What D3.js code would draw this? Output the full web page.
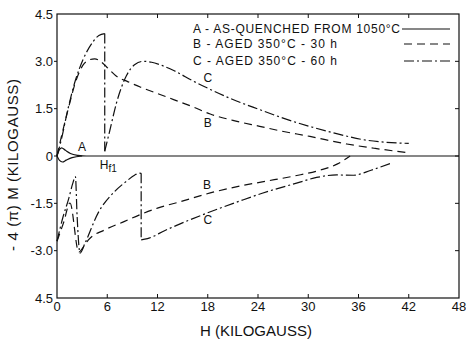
<!DOCTYPE html>
<html>
<head>
<meta charset="utf-8">
<script src="https://cdn.jsdelivr.net/npm/d3@7"></script>
<style>
  body { margin: 0; background: #fff; }
  text { font-family: "Liberation Sans", Arial, sans-serif; fill: #111; }
</style>
</head>
<body>
<div id="chart"></div>
<script>
// values: [H kG, -4piM kG]
// each curve is a list of pieces; the pieces are joined by straight jumps
let curveA = [
  [[0, 0], [0.25, 0.18], [0.55, 0.26], [1, 0.18], [1.6, 0.08], [2.5, 0.02], [3.5, 0], [48, 0]],
];
let curveAlow = [
  [[0, 0], [0.3, -0.14], [0.65, -0.19], [1.1, -0.13], [1.8, -0.05], [3, 0]],
];
let curveB = [
  [[0, 0], [0.6, 0.7], [1.3, 1.45], [2.35, 2.45], [3.1, 2.88], [3.8, 3.04], [4.5, 3.08], [5.2, 3.0],
   [5.9, 2.83], [7.1, 2.53], [8.5, 2.35], [10, 2.18], [12.3, 1.95], [14, 1.78], [16.3, 1.55],
   [18.3, 1.33], [21, 1.13], [24.2, 0.94], [26.6, 0.8], [30.2, 0.62], [34.6, 0.38], [38, 0.24], [42, 0.1]],
];
let curveBlow = [
  [[0, -2.7], [0.8, -2.1], [1.55, -1.49], [2.6, -3.05], [3.1, -2.9], [3.75, -2.66], [5.7, -2.34],
   [8, -2.08], [9.9, -1.86], [12, -1.65], [14.7, -1.45], [18.3, -1.17], [21.9, -0.95], [24.5, -0.82],
   [28.4, -0.63], [31.4, -0.45], [33.5, -0.25], [35, 0]],
];
let curveC = [
  [[0, 0], [0.5, 0.5], [1.3, 1.48], [2.2, 2.4], [3.1, 3.05], [4.3, 3.62], [5.0, 3.82], [5.7, 3.88]],
  [[5.7, 0.15], [6.3, 0.8], [7.1, 1.68], [8.3, 2.55], [9.3, 2.9], [10.3, 3.0], [11.3, 2.97], [12.3, 2.89],
   [14, 2.7], [16.3, 2.37], [18.3, 2.11], [21, 1.79], [24.2, 1.47], [27, 1.2], [30.4, 0.92],
   [33.5, 0.7], [36.5, 0.52], [39, 0.44], [42, 0.4]],
];
let curveClow = [
  [[0, -2.7], [0.7, -1.95], [1.4, -1.35], [1.9, -0.85], [2.2, -0.65], [2.4, -1.9], [2.75, -3.08],
   [3.35, -2.76], [4.9, -1.81], [6.9, -1.12], [8.2, -0.82], [9.3, -0.6], [9.8, -0.54], [10.05, -0.55]],
  [[10.05, -2.66], [10.8, -2.62], [12.9, -2.36], [14.7, -2.15], [17.9, -1.81], [21.9, -1.42], [24.5, -1.18],
   [28.6, -0.86], [31, -0.68], [33.4, -0.6], [35.4, -0.61], [37.5, -0.45], [40, -0.22]],
];

let xTicks = [0, 6, 12, 18, 24, 30, 36, 42, 48];
let yTicks = [4.5, 3.0, 1.5, 0, -1.5, -3.0, -4.5];
let yTickLabels = ["4.5", "3.0", "1.5", "0", "-1.5", "-3.0", "4.5"];

let legendNames = ["A - AS-QUENCHED FROM 1050°C", "B - AGED 350°C - 30 h", "C - AGED 350°C - 60 h"];

let width = 466, height = 340;
let margin = {top: 14, right: 7, bottom: 42, left: 57};

let svg = d3.select("#chart")
  .append("svg")
    .attr("width", width)
    .attr("height", height);

let x = d3.scaleLinear().domain([0, 48]).range([margin.left, width - margin.right]);
let y = d3.scaleLinear().domain([-4.5, 4.5]).range([height - margin.bottom, margin.top]);

// frame
svg.append("rect")
  .attr("x", x(0)).attr("y", y(4.5))
  .attr("width", x(48) - x(0)).attr("height", y(-4.5) - y(4.5))
  .attr("fill", "none").attr("stroke", "#111").attr("stroke-width", 1.2);

// ticks: bottom/top/right point inward, left points out
let tk = svg.append("g").attr("stroke", "#111").attr("stroke-width", 1);
xTicks.slice(1, -1).forEach(function(t) {
  tk.append("line").attr("x1", x(t)).attr("x2", x(t)).attr("y1", y(-4.5)).attr("y2", y(-4.5) - 4);
  tk.append("line").attr("x1", x(t)).attr("x2", x(t)).attr("y1", y(4.5)).attr("y2", y(4.5) + 4);
});
yTicks.slice(1, -1).forEach(function(t) {
  tk.append("line").attr("x1", x(0) - 3).attr("x2", x(0)).attr("y1", y(t)).attr("y2", y(t));
  tk.append("line").attr("x1", x(48)).attr("x2", x(48) - 4).attr("y1", y(t)).attr("y2", y(t));
});

svg.append("g").selectAll("text").data(xTicks).join("text")
  .attr("x", function(d) { return x(d); })
  .attr("y", y(-4.5) + 13)
  .attr("text-anchor", "middle")
  .attr("font-size", 13)
  .text(function(d) { return d; });

svg.append("g").selectAll("text").data(yTicks).join("text")
  .attr("x", x(0) - 4)
  .attr("y", function(d) { return y(d) + 4.5; })
  .attr("text-anchor", "end")
  .attr("font-size", 13)
  .text(function(d, i) { return yTickLabels[i]; });

// axis titles
svg.append("text")
  .attr("transform", "translate(18,165) rotate(-90)")
  .attr("text-anchor", "middle")
  .attr("font-size", 15)
  .attr("textLength", 172)
  .text("- 4 (π) M  (KILOGAUSS)");

svg.append("text")
  .attr("x", 256).attr("y", 336)
  .attr("text-anchor", "middle")
  .attr("font-size", 15)
  .attr("textLength", 112)
  .text("H  (KILOGAUSS)");

// curves
let smooth = d3.line()
  .x(function(d) { return x(d[0]); })
  .y(function(d) { return y(d[1]); })
  .curve(d3.curveMonotoneX);
let straight = d3.line()
  .x(function(d) { return x(d[0]); })
  .y(function(d) { return y(d[1]); });

function drawCurve(pieces, dash) {
  let g = svg.append("g")
    .attr("fill", "none")
    .attr("stroke", "#111")
    .attr("stroke-width", 1.2)
    .attr("stroke-dasharray", dash);
  pieces.forEach(function(p, i) {
    g.append("path").attr("d", smooth(p));
    if (i > 0) {
      let prev = pieces[i - 1];
      g.append("path").attr("d", straight([prev[prev.length - 1], p[0]]));
    }
  });
}

let dashB = "8,5";
let dashC = "10,3,2,3";
drawCurve(curveA, null);
drawCurve(curveAlow, null);
drawCurve(curveB, dashB);
drawCurve(curveBlow, dashB);
drawCurve(curveC, dashC);
drawCurve(curveClow, dashC);

// curve labels
let lbl = svg.append("g").attr("font-size", 12).attr("text-anchor", "middle");
lbl.append("text").attr("x", x(3)).attr("y", y(0.17)).text("A");
lbl.append("text").attr("x", x(18.0)).attr("y", y(2.33)).text("C");
lbl.append("text").attr("x", x(18.0)).attr("y", y(0.91)).text("B");
lbl.append("text").attr("x", x(17.9)).attr("y", y(-1.05)).text("B");
lbl.append("text").attr("x", x(18.0)).attr("y", y(-2.17)).text("C");

let hf = svg.append("text").attr("x", x(5.1)).attr("y", y(-0.42)).attr("font-size", 12);
hf.append("tspan").text("H");
hf.append("tspan").attr("font-size", 10).attr("dy", 3).text("f1");

// legend
let legendY = [33, 48, 65];
let legendLen = [207, 144, 144];
let legendDash = [null, dashB, dashC];
legendNames.forEach(function(name, i) {
  svg.append("text")
    .attr("x", 193).attr("y", legendY[i])
    .attr("font-size", 12)
    .attr("textLength", legendLen[i])
    .text(name);
  svg.append("line")
    .attr("x1", i == 0 ? 402 : 404).attr("x2", 450)
    .attr("y1", legendY[i] - 4).attr("y2", legendY[i] - 4)
    .attr("stroke", "#111").attr("stroke-width", 1.2)
    .attr("stroke-dasharray", legendDash[i]);
});
</script>
</body>
</html>
